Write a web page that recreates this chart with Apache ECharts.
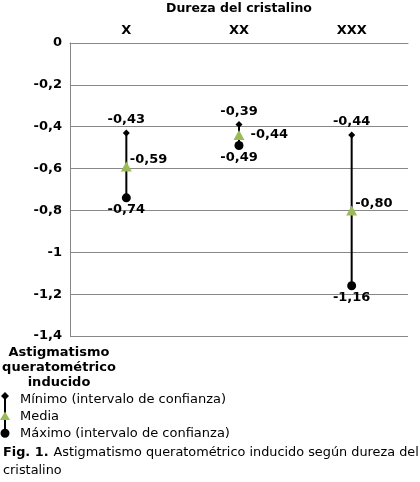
<!DOCTYPE html>
<html><head><meta charset="utf-8">
<script src="https://cdn.jsdelivr.net/npm/echarts@6/dist/echarts.min.js"></script>
<style>html,body{margin:0;padding:0;background:#fff}#c{width:420px;height:482px}</style>
</head><body><div id="c"></div>
<script>
const categories = ['X', 'XX', 'XXX'];
const minimo = [-0.43, -0.39, -0.44];
const media = [-0.59, -0.44, -0.80];
const maximo = [-0.74, -0.49, -1.16];
const yTicks = {min: -1.4, max: 0, interval: 0.2};

const F = 'DejaVu Sans, Verdana, sans-serif';
const fmt = v => String(Math.round(v * 100) / 100).replace('.', ',');
const lab = v => v.toFixed(2).replace('.', ',');
const labelBase = {show: true, color: '#000', fontFamily: F, fontSize: 13, fontWeight: 'bold', formatter: p => lab(p.value[1])};
const anchors = ' M0 0 L0.01 0 L0 0.01 Z M15 16 L14.99 16 L15 15.99 Z';

const chart = echarts.init(document.getElementById('c'));
chart.setOption({
  animation: false,
  backgroundColor: '#fff',
  grid: {left: 70, right: 12, top: 43, bottom: 146, outerBoundsMode: 'none', containLabel: false},
  xAxis: {
    type: 'category', data: categories, position: 'top',
    name: 'Dureza del cristalino', nameLocation: 'middle', nameGap: 28,
    nameTextStyle: {fontFamily: F, fontSize: 12.5, fontWeight: 'bold', color: '#000'},
    axisLine: {show: true, lineStyle: {color: '#888', width: 1}},
    axisTick: {show: false},
    axisLabel: {fontFamily: F, fontSize: 13, fontWeight: 'bold', color: '#000', margin: 6}
  },
  yAxis: {
    type: 'value', min: yTicks.min, max: yTicks.max, interval: yTicks.interval,
    name: 'Astigmatismo\nqueratométrico\ninducido', nameLocation: 'start', nameGap: 9,
    nameTextStyle: {fontFamily: F, fontSize: 13, fontWeight: 'bold', color: '#000', align: 'center', verticalAlign: 'top', lineHeight: 15, padding: [0, 22, 0, 0]},
    axisLine: {show: true, lineStyle: {color: '#888', width: 1}},
    axisTick: {show: false},
    splitLine: {lineStyle: {color: '#888', width: 1}},
    axisLabel: {fontFamily: F, fontSize: 13, fontWeight: 'bold', color: '#000', margin: 8, formatter: v => fmt(v)}
  },
  graphic: [{
    type: 'line', z: 0, silent: true,
    shape: {x1: 5, y1: 396, x2: 5, y2: 433},
    style: {stroke: '#000', lineWidth: 2}
  }],
  legend: {
    orient: 'vertical', left: 0, top: 392, padding: 0, itemGap: 1, itemWidth: 15, itemHeight: 16, z: 4,
    textStyle: {fontFamily: F, fontSize: 13, color: '#000'},
    data: [
      {name: 'Mínimo (intervalo de confianza)', icon: 'path://M5 0 L9 4 L5 8 L1 4 Z' + anchors},
      {name: 'Media', icon: 'path://M5 2.5 L10 11 L0 11 Z' + anchors},
      {name: 'Máximo (intervalo de confianza)', icon: 'path://M5 2.8 A4.5 4.5 0 1 1 5 11.8 A4.5 4.5 0 1 1 5 2.8 Z' + anchors}
    ]
  },
  title: {
    left: 3, top: 444, padding: 0,
    text: '{b|Fig. 1.} {r|Astigmatismo queratométrico inducido según dureza del}\n{r|cristalino}',
    textStyle: {fontWeight: 'normal', rich: {
      b: {fontFamily: F, fontSize: 12.85, fontWeight: 'bold', color: '#000', lineHeight: 17},
      r: {fontFamily: F, fontSize: 12.85, fontWeight: 'normal', color: '#000', lineHeight: 17}
    }}
  },
  series: [
    {
      type: 'custom', name: 'range', silent: true, z: 1,
      data: categories.map((c, i) => [i, minimo[i], maximo[i]]),
      renderItem: (params, api) => {
        const a = api.coord([api.value(0), api.value(1)]);
        const b = api.coord([api.value(0), api.value(2)]);
        return {type: 'line', shape: {x1: a[0], y1: a[1], x2: b[0], y2: b[1]}, style: {stroke: '#000', lineWidth: 2}};
      }
    },
    {
      type: 'scatter', name: 'Mínimo (intervalo de confianza)', symbol: 'diamond', symbolSize: 7, z: 3,
      itemStyle: {color: '#000', opacity: 1},
      label: Object.assign({}, labelBase, {position: 'top', distance: 3}),
      data: categories.map((c, i) => [i, minimo[i]])
    },
    {
      type: 'scatter', name: 'Media', symbol: 'triangle', symbolSize: [11, 10], z: 4,
      itemStyle: {color: '#9BBB59', opacity: 1},
      label: Object.assign({}, labelBase, {position: 'right', distance: -2, offset: [0, -7]}),
      data: categories.map((c, i) => i === 1
        ? {value: [i, media[i]], label: {offset: [8, 0]}}
        : [i, media[i]])
    },
    {
      type: 'scatter', name: 'Máximo (intervalo de confianza)', symbol: 'circle', symbolSize: 9, z: 3,
      itemStyle: {color: '#000', opacity: 1},
      label: Object.assign({}, labelBase, {position: 'bottom', distance: 1}),
      data: categories.map((c, i) => [i, maximo[i]])
    }
  ]
});
</script></body></html>
